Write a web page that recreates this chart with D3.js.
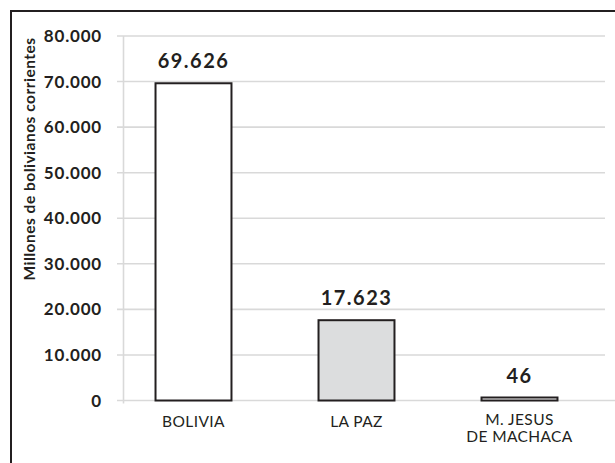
<!DOCTYPE html>
<html>
<head>
<meta charset="utf-8">
<script src="https://cdn.jsdelivr.net/npm/d3@7"></script>
<style>
  body { margin: 0; background: #fff; }
  svg { display: block; }
  text { font-family: Lato, "Open Sans", sans-serif; fill: #231f20; }
</style>
</head>
<body>
<div id="chart"></div>
<script>
// datos
var categorias = ["BOLIVIA", "LA PAZ", "M. JESUS\nDE MACHACA"];
var valores = [69626, 17623, 46];
var etiquetas = ["69.626", "17.623", "46"];
var colores = ["#ffffff", "#dcddde", "#ffffff"];
var ticksY = [0, 10000, 20000, 30000, 40000, 50000, 60000, 70000, 80000];
var tituloY = "Millones de bolivianos corrientes";

var width = 615;
var height = 463;

var svg = d3.select("#chart").append("svg")
    .attr("width", width)
    .attr("height", height);

// marco
svg.append("rect")
    .attr("x", 11)
    .attr("y", 11)
    .attr("width", 620)
    .attr("height", 470)
    .attr("fill", "none")
    .attr("stroke", "#231f20")
    .attr("stroke-width", 2);

var y = d3.scaleLinear()
    .domain([0, 80000])
    .range([400.5, 36]);

var x = d3.scaleBand()
    .domain(categorias)
    .range([112, 601])
    .paddingInner(0.534)
    .paddingOuter(0.267);

var fmt = function(d) { return d3.format(",")(d).replace(/,/g, "."); };

// lineas de grilla
svg.append("g")
    .selectAll("line")
    .data(ticksY)
    .enter().append("line")
    .attr("x1", 117)
    .attr("x2", function(d) { return d == 0 ? 615 : 605; })
    .attr("y1", function(d) { return y(d); })
    .attr("y2", function(d) { return y(d); })
    .attr("stroke", "#d9d9d9")
    .attr("stroke-width", 1.6);

// eje vertical
svg.append("line")
    .attr("x1", 123.5)
    .attr("x2", 123.5)
    .attr("y1", y(80000))
    .attr("y2", y(0) + 3)
    .attr("stroke", "#d9d9d9")
    .attr("stroke-width", 1.6);

// etiquetas eje Y
svg.append("g")
    .selectAll("text")
    .data(ticksY)
    .enter().append("text")
    .attr("x", 102)
    .attr("y", function(d) { return y(d); })
    .attr("dy", "0.36em")
    .attr("text-anchor", "end")
    .attr("font-size", 17)
    .attr("font-weight", "bold")
    .attr("letter-spacing", 0.8)
    .text(function(d) { return fmt(d); });

// titulo eje Y
svg.append("text")
    .attr("transform", "translate(35,159) rotate(-90)")
    .attr("text-anchor", "middle")
    .attr("font-size", 15.5)
    .attr("font-weight", "bold")
    .attr("letter-spacing", 0.5)
    .text(tituloY);

// barras
svg.append("g")
    .selectAll("rect")
    .data(valores)
    .enter().append("rect")
    .attr("x", function(d, i) { return x(categorias[i]); })
    .attr("y", function(d) { return Math.min(y(d), y(0) - 3); })
    .attr("width", x.bandwidth())
    .attr("height", function(d) { return Math.max(y(0) - y(d), 3); })
    .attr("fill", function(d, i) { return colores[i]; })
    .attr("stroke", "#231f20")
    .attr("stroke-width", 2);

// valores
svg.append("g")
    .selectAll("text")
    .data(valores)
    .enter().append("text")
    .attr("x", function(d, i) { return x(categorias[i]) + x.bandwidth() / 2; })
    .attr("y", function(d) { return Math.min(y(d), y(0) - 3) - 15; })
    .attr("text-anchor", "middle")
    .attr("font-size", 20)
    .attr("font-weight", "bold")
    .attr("letter-spacing", 1.5)
    .text(function(d, i) { return etiquetas[i]; });

// categorias
var cat = svg.append("g")
    .selectAll("text")
    .data(categorias)
    .enter().append("text")
    .attr("x", function(d) { return x(d) + x.bandwidth() / 2; })
    .attr("text-anchor", "middle")
    .attr("font-size", 15.5)
    .attr("letter-spacing", 0.4);

cat.selectAll("tspan")
    .data(function(d) { return d.split("\n"); })
    .enter().append("tspan")
    .attr("x", function() { return d3.select(this.parentNode).attr("x"); })
    .attr("y", function(d, i, nodes) { return (nodes.length > 1 ? 425 : 427) + i * 17; })
    .text(function(d) { return d; });
</script>
</body>
</html>
